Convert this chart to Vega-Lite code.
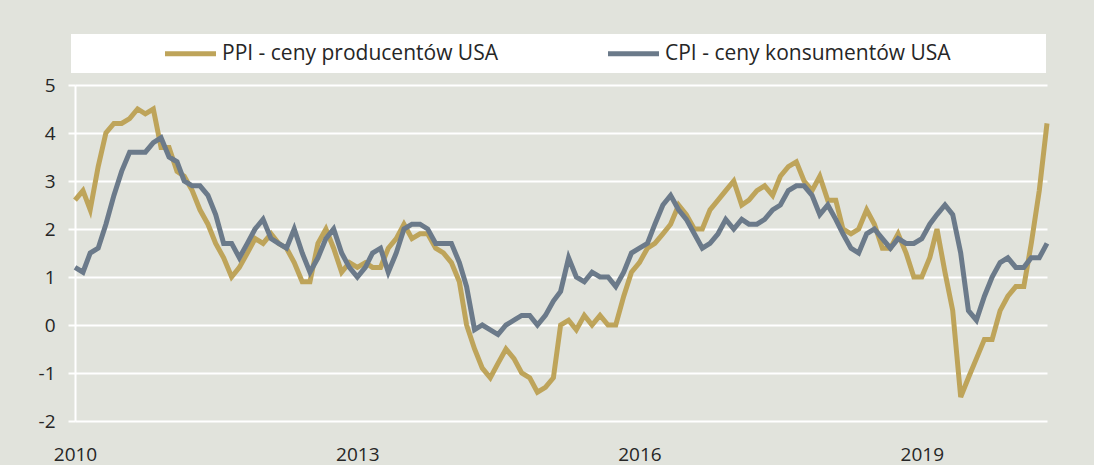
{
  "$schema": "https://vega.github.io/schema/vega-lite/v6.json",
  "width": 972,
  "height": 336,
  "autosize": {"type": "none"},
  "padding": {"left": 75, "top": 85, "right": 47, "bottom": 44},
  "background": "#e1e3dc",
  "config": {"view": {"stroke": null}, "font": "Open Sans"},
  "data": {
    "format": {"parse": {"m": "date:'%Y-%m'"}},
    "values": [
      {"m":"2010-01","s":"PPI","v":2.6},{"m":"2010-02","s":"PPI","v":2.8},{"m":"2010-03","s":"PPI","v":2.4},{"m":"2010-04","s":"PPI","v":3.3},{"m":"2010-05","s":"PPI","v":4.0},{"m":"2010-06","s":"PPI","v":4.2},{"m":"2010-07","s":"PPI","v":4.2},{"m":"2010-08","s":"PPI","v":4.3},{"m":"2010-09","s":"PPI","v":4.5},{"m":"2010-10","s":"PPI","v":4.4},{"m":"2010-11","s":"PPI","v":4.5},{"m":"2010-12","s":"PPI","v":3.7},
      {"m":"2011-01","s":"PPI","v":3.7},{"m":"2011-02","s":"PPI","v":3.2},{"m":"2011-03","s":"PPI","v":3.1},{"m":"2011-04","s":"PPI","v":2.8},{"m":"2011-05","s":"PPI","v":2.4},{"m":"2011-06","s":"PPI","v":2.1},{"m":"2011-07","s":"PPI","v":1.7},{"m":"2011-08","s":"PPI","v":1.4},{"m":"2011-09","s":"PPI","v":1.0},{"m":"2011-10","s":"PPI","v":1.2},{"m":"2011-11","s":"PPI","v":1.5},{"m":"2011-12","s":"PPI","v":1.8},
      {"m":"2012-01","s":"PPI","v":1.7},{"m":"2012-02","s":"PPI","v":1.9},{"m":"2012-03","s":"PPI","v":1.7},{"m":"2012-04","s":"PPI","v":1.6},{"m":"2012-05","s":"PPI","v":1.3},{"m":"2012-06","s":"PPI","v":0.9},{"m":"2012-07","s":"PPI","v":0.9},{"m":"2012-08","s":"PPI","v":1.7},{"m":"2012-09","s":"PPI","v":2.0},{"m":"2012-10","s":"PPI","v":1.6},{"m":"2012-11","s":"PPI","v":1.1},{"m":"2012-12","s":"PPI","v":1.3},
      {"m":"2013-01","s":"PPI","v":1.2},{"m":"2013-02","s":"PPI","v":1.3},{"m":"2013-03","s":"PPI","v":1.2},{"m":"2013-04","s":"PPI","v":1.2},{"m":"2013-05","s":"PPI","v":1.6},{"m":"2013-06","s":"PPI","v":1.8},{"m":"2013-07","s":"PPI","v":2.1},{"m":"2013-08","s":"PPI","v":1.8},{"m":"2013-09","s":"PPI","v":1.9},{"m":"2013-10","s":"PPI","v":1.9},{"m":"2013-11","s":"PPI","v":1.6},{"m":"2013-12","s":"PPI","v":1.5},
      {"m":"2014-01","s":"PPI","v":1.3},{"m":"2014-02","s":"PPI","v":0.9},{"m":"2014-03","s":"PPI","v":0.0},{"m":"2014-04","s":"PPI","v":-0.5},{"m":"2014-05","s":"PPI","v":-0.9},{"m":"2014-06","s":"PPI","v":-1.1},{"m":"2014-07","s":"PPI","v":-0.8},{"m":"2014-08","s":"PPI","v":-0.5},{"m":"2014-09","s":"PPI","v":-0.7},{"m":"2014-10","s":"PPI","v":-1.0},{"m":"2014-11","s":"PPI","v":-1.1},{"m":"2014-12","s":"PPI","v":-1.4},
      {"m":"2015-01","s":"PPI","v":-1.3},{"m":"2015-02","s":"PPI","v":-1.1},{"m":"2015-03","s":"PPI","v":0.0},{"m":"2015-04","s":"PPI","v":0.1},{"m":"2015-05","s":"PPI","v":-0.1},{"m":"2015-06","s":"PPI","v":0.2},{"m":"2015-07","s":"PPI","v":0.0},{"m":"2015-08","s":"PPI","v":0.2},{"m":"2015-09","s":"PPI","v":0.0},{"m":"2015-10","s":"PPI","v":0.0},{"m":"2015-11","s":"PPI","v":0.6},{"m":"2015-12","s":"PPI","v":1.1},
      {"m":"2016-01","s":"PPI","v":1.3},{"m":"2016-02","s":"PPI","v":1.6},{"m":"2016-03","s":"PPI","v":1.7},{"m":"2016-04","s":"PPI","v":1.9},{"m":"2016-05","s":"PPI","v":2.1},{"m":"2016-06","s":"PPI","v":2.5},{"m":"2016-07","s":"PPI","v":2.3},{"m":"2016-08","s":"PPI","v":2.0},{"m":"2016-09","s":"PPI","v":2.0},{"m":"2016-10","s":"PPI","v":2.4},{"m":"2016-11","s":"PPI","v":2.6},{"m":"2016-12","s":"PPI","v":2.8},
      {"m":"2017-01","s":"PPI","v":3.0},{"m":"2017-02","s":"PPI","v":2.5},{"m":"2017-03","s":"PPI","v":2.6},{"m":"2017-04","s":"PPI","v":2.8},{"m":"2017-05","s":"PPI","v":2.9},{"m":"2017-06","s":"PPI","v":2.7},{"m":"2017-07","s":"PPI","v":3.1},{"m":"2017-08","s":"PPI","v":3.3},{"m":"2017-09","s":"PPI","v":3.4},{"m":"2017-10","s":"PPI","v":3.0},{"m":"2017-11","s":"PPI","v":2.8},{"m":"2017-12","s":"PPI","v":3.1},
      {"m":"2018-01","s":"PPI","v":2.6},{"m":"2018-02","s":"PPI","v":2.6},{"m":"2018-03","s":"PPI","v":2.0},{"m":"2018-04","s":"PPI","v":1.9},{"m":"2018-05","s":"PPI","v":2.0},{"m":"2018-06","s":"PPI","v":2.4},{"m":"2018-07","s":"PPI","v":2.1},{"m":"2018-08","s":"PPI","v":1.6},{"m":"2018-09","s":"PPI","v":1.6},{"m":"2018-10","s":"PPI","v":1.9},{"m":"2018-11","s":"PPI","v":1.5},{"m":"2018-12","s":"PPI","v":1.0},
      {"m":"2019-01","s":"PPI","v":1.0},{"m":"2019-02","s":"PPI","v":1.4},{"m":"2019-03","s":"PPI","v":2.0},{"m":"2019-04","s":"PPI","v":1.1},{"m":"2019-05","s":"PPI","v":0.3},{"m":"2019-06","s":"PPI","v":-1.5},{"m":"2019-07","s":"PPI","v":-1.1},{"m":"2019-08","s":"PPI","v":-0.7},{"m":"2019-09","s":"PPI","v":-0.3},{"m":"2019-10","s":"PPI","v":-0.3},{"m":"2019-11","s":"PPI","v":0.3},{"m":"2019-12","s":"PPI","v":0.6},
      {"m":"2020-01","s":"PPI","v":0.8},{"m":"2020-02","s":"PPI","v":0.8},{"m":"2020-03","s":"PPI","v":1.7},{"m":"2020-04","s":"PPI","v":2.8},{"m":"2020-05","s":"PPI","v":4.2},
      {"m":"2010-01","s":"CPI","v":1.2},{"m":"2010-02","s":"CPI","v":1.1},{"m":"2010-03","s":"CPI","v":1.5},{"m":"2010-04","s":"CPI","v":1.6},{"m":"2010-05","s":"CPI","v":2.1},{"m":"2010-06","s":"CPI","v":2.7},{"m":"2010-07","s":"CPI","v":3.2},{"m":"2010-08","s":"CPI","v":3.6},{"m":"2010-09","s":"CPI","v":3.6},{"m":"2010-10","s":"CPI","v":3.6},{"m":"2010-11","s":"CPI","v":3.8},{"m":"2010-12","s":"CPI","v":3.9},
      {"m":"2011-01","s":"CPI","v":3.5},{"m":"2011-02","s":"CPI","v":3.4},{"m":"2011-03","s":"CPI","v":3.0},{"m":"2011-04","s":"CPI","v":2.9},{"m":"2011-05","s":"CPI","v":2.9},{"m":"2011-06","s":"CPI","v":2.7},{"m":"2011-07","s":"CPI","v":2.3},{"m":"2011-08","s":"CPI","v":1.7},{"m":"2011-09","s":"CPI","v":1.7},{"m":"2011-10","s":"CPI","v":1.4},{"m":"2011-11","s":"CPI","v":1.7},{"m":"2011-12","s":"CPI","v":2.0},
      {"m":"2012-01","s":"CPI","v":2.2},{"m":"2012-02","s":"CPI","v":1.8},{"m":"2012-03","s":"CPI","v":1.7},{"m":"2012-04","s":"CPI","v":1.6},{"m":"2012-05","s":"CPI","v":2.0},{"m":"2012-06","s":"CPI","v":1.5},{"m":"2012-07","s":"CPI","v":1.1},{"m":"2012-08","s":"CPI","v":1.4},{"m":"2012-09","s":"CPI","v":1.8},{"m":"2012-10","s":"CPI","v":2.0},{"m":"2012-11","s":"CPI","v":1.5},{"m":"2012-12","s":"CPI","v":1.2},
      {"m":"2013-01","s":"CPI","v":1.0},{"m":"2013-02","s":"CPI","v":1.2},{"m":"2013-03","s":"CPI","v":1.5},{"m":"2013-04","s":"CPI","v":1.6},{"m":"2013-05","s":"CPI","v":1.1},{"m":"2013-06","s":"CPI","v":1.5},{"m":"2013-07","s":"CPI","v":2.0},{"m":"2013-08","s":"CPI","v":2.1},{"m":"2013-09","s":"CPI","v":2.1},{"m":"2013-10","s":"CPI","v":2.0},{"m":"2013-11","s":"CPI","v":1.7},{"m":"2013-12","s":"CPI","v":1.7},
      {"m":"2014-01","s":"CPI","v":1.7},{"m":"2014-02","s":"CPI","v":1.3},{"m":"2014-03","s":"CPI","v":0.8},{"m":"2014-04","s":"CPI","v":-0.1},{"m":"2014-05","s":"CPI","v":0.0},{"m":"2014-06","s":"CPI","v":-0.1},{"m":"2014-07","s":"CPI","v":-0.2},{"m":"2014-08","s":"CPI","v":0.0},{"m":"2014-09","s":"CPI","v":0.1},{"m":"2014-10","s":"CPI","v":0.2},{"m":"2014-11","s":"CPI","v":0.2},{"m":"2014-12","s":"CPI","v":0.0},
      {"m":"2015-01","s":"CPI","v":0.2},{"m":"2015-02","s":"CPI","v":0.5},{"m":"2015-03","s":"CPI","v":0.7},{"m":"2015-04","s":"CPI","v":1.4},{"m":"2015-05","s":"CPI","v":1.0},{"m":"2015-06","s":"CPI","v":0.9},{"m":"2015-07","s":"CPI","v":1.1},{"m":"2015-08","s":"CPI","v":1.0},{"m":"2015-09","s":"CPI","v":1.0},{"m":"2015-10","s":"CPI","v":0.8},{"m":"2015-11","s":"CPI","v":1.1},{"m":"2015-12","s":"CPI","v":1.5},
      {"m":"2016-01","s":"CPI","v":1.6},{"m":"2016-02","s":"CPI","v":1.7},{"m":"2016-03","s":"CPI","v":2.1},{"m":"2016-04","s":"CPI","v":2.5},{"m":"2016-05","s":"CPI","v":2.7},{"m":"2016-06","s":"CPI","v":2.4},{"m":"2016-07","s":"CPI","v":2.2},{"m":"2016-08","s":"CPI","v":1.9},{"m":"2016-09","s":"CPI","v":1.6},{"m":"2016-10","s":"CPI","v":1.7},{"m":"2016-11","s":"CPI","v":1.9},{"m":"2016-12","s":"CPI","v":2.2},
      {"m":"2017-01","s":"CPI","v":2.0},{"m":"2017-02","s":"CPI","v":2.2},{"m":"2017-03","s":"CPI","v":2.1},{"m":"2017-04","s":"CPI","v":2.1},{"m":"2017-05","s":"CPI","v":2.2},{"m":"2017-06","s":"CPI","v":2.4},{"m":"2017-07","s":"CPI","v":2.5},{"m":"2017-08","s":"CPI","v":2.8},{"m":"2017-09","s":"CPI","v":2.9},{"m":"2017-10","s":"CPI","v":2.9},{"m":"2017-11","s":"CPI","v":2.7},{"m":"2017-12","s":"CPI","v":2.3},
      {"m":"2018-01","s":"CPI","v":2.5},{"m":"2018-02","s":"CPI","v":2.2},{"m":"2018-03","s":"CPI","v":1.9},{"m":"2018-04","s":"CPI","v":1.6},{"m":"2018-05","s":"CPI","v":1.5},{"m":"2018-06","s":"CPI","v":1.9},{"m":"2018-07","s":"CPI","v":2.0},{"m":"2018-08","s":"CPI","v":1.8},{"m":"2018-09","s":"CPI","v":1.6},{"m":"2018-10","s":"CPI","v":1.8},{"m":"2018-11","s":"CPI","v":1.7},{"m":"2018-12","s":"CPI","v":1.7},
      {"m":"2019-01","s":"CPI","v":1.8},{"m":"2019-02","s":"CPI","v":2.1},{"m":"2019-03","s":"CPI","v":2.3},{"m":"2019-04","s":"CPI","v":2.5},{"m":"2019-05","s":"CPI","v":2.3},{"m":"2019-06","s":"CPI","v":1.5},{"m":"2019-07","s":"CPI","v":0.3},{"m":"2019-08","s":"CPI","v":0.1},{"m":"2019-09","s":"CPI","v":0.6},{"m":"2019-10","s":"CPI","v":1.0},{"m":"2019-11","s":"CPI","v":1.3},{"m":"2019-12","s":"CPI","v":1.4},
      {"m":"2020-01","s":"CPI","v":1.2},{"m":"2020-02","s":"CPI","v":1.2},{"m":"2020-03","s":"CPI","v":1.4},{"m":"2020-04","s":"CPI","v":1.4},{"m":"2020-05","s":"CPI","v":1.7}
    ]
  },
  "mark": {"type": "line", "strokeWidth": 5},
  "encoding": {
    "x": {
      "field": "m",
      "type": "temporal",
      "scale": {"domain": [{"year": 2010, "month": 1, "date": 1}, {"year": 2020, "month": 5, "date": 1}]},
      "axis": {
        "title": null,
        "values": [{"year": 2010, "month": 1, "date": 1}, {"year": 2013, "month": 1, "date": 1}, {"year": 2016, "month": 1, "date": 1}, {"year": 2019, "month": 1, "date": 1}],
        "format": "%Y",
        "grid": false,
        "domain": false,
        "ticks": false,
        "tickSize": 0,
        "labelPadding": 24,
        "labelFontSize": 19,
        "labelColor": "#262626",
        "labelFlush": false,
        "labelOverlap": false
      }
    },
    "y": {
      "field": "v",
      "type": "quantitative",
      "scale": {"domain": [-2, 5], "nice": false, "zero": false},
      "axis": {
        "title": null,
        "values": [-2, -1, 0, 1, 2, 3, 4, 5],
        "labelExpr": "datum.value < 0 ? '-' + abs(datum.value) : datum.label",
        "grid": true,
        "gridColor": "#ffffff",
        "gridWidth": 2,
        "gridOpacity": 1,
        "domain": true,
        "domainColor": "#ffffff",
        "domainWidth": 2,
        "ticks": true,
        "tickColor": "#ffffff",
        "tickWidth": 2,
        "tickSize": 7,
        "labelPadding": 13,
        "labelFontSize": 19,
        "labelColor": "#262626"
      }
    },
    "color": {
      "field": "s",
      "type": "nominal",
      "scale": {"domain": ["PPI", "CPI"], "range": ["#bea45a", "#6b7a8a"]},
      "legend": {
        "title": "\u00a0",
        "titleOrient": "right",
        "titlePadding": 86,
        "titleColor": "#ffffff",
        "titleFontSize": 21,
        "orient": "none",
        "legendX": -4,
        "legendY": -51,
        "direction": "horizontal",
        "fillColor": "#ffffff",
        "padding": 9,
        "symbolType": "M-3.4,0H3.4",
        "symbolSize": 225,
        "symbolStrokeWidth": 5,
        "symbolOffset": 100,
        "labelOffset": 21,
        "columnPadding": 25,
        "labelFontSize": 21,
        "labelColor": "#262626",
        "labelLimit": 2000,
        "labelExpr": "datum.label == 'PPI' ? 'PPI - ceny producentów USA' : 'CPI - ceny konsumentów USA'"
      }
    }
  }
}
